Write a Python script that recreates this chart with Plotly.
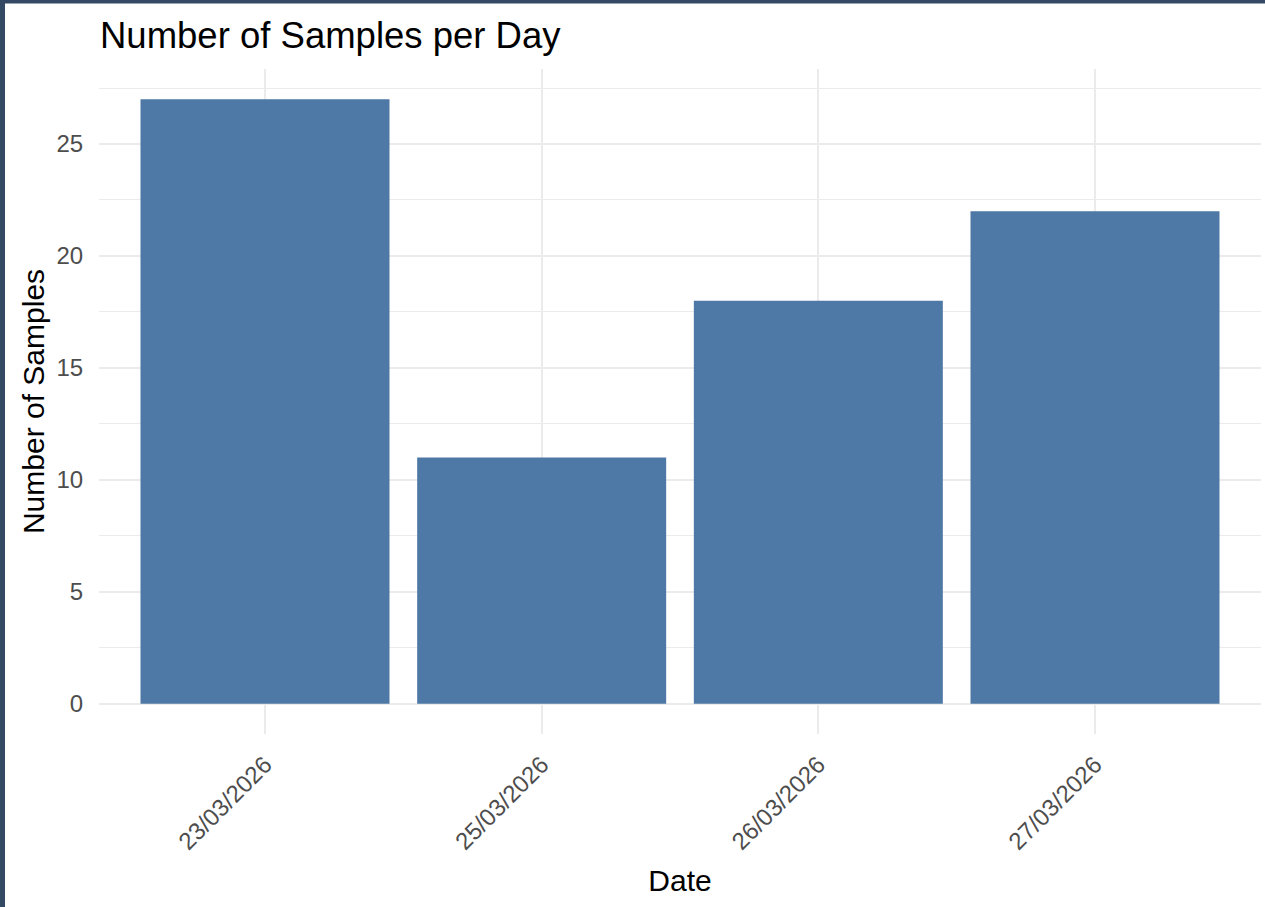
import plotly.graph_objects as go

dates = ["23/03/2026", "25/03/2026", "26/03/2026", "27/03/2026"]
samples = [27, 11, 18, 22]
y_ticks = [0, 5, 10, 15, 20, 25]

W, H = 1265, 907
L, R, T, B = 99, 4, 69, 173
pw, ph = W - L - R, H - T - B

FONT = "Liberation Sans, Arial, sans-serif"
BORDER = "#344964"
GRID = "#EBEBEB"

fig = go.Figure()
fig.add_trace(go.Bar(
    x=dates, y=samples, width=0.9,
    marker=dict(color="#4E79A6", line=dict(width=0)),
    hoverinfo="x+y",
))

def px_x(p):
    return (p - L) / pw

def px_y(p):
    return (H - B - p) / ph

shapes = [
    dict(type="rect", xref="paper", yref="paper",
         x0=px_x(0), x1=px_x(5), y0=px_y(H), y1=px_y(0),
         fillcolor=BORDER, line=dict(width=0), layer="above"),
    dict(type="rect", xref="paper", yref="paper",
         x0=px_x(0), x1=px_x(W), y0=px_y(3.5), y1=px_y(0),
         fillcolor=BORDER, line=dict(width=0), layer="above"),
]

fig.update_layout(
    width=W, height=H,
    margin=dict(l=L, r=R, t=T, b=B, pad=0),
    paper_bgcolor="white", plot_bgcolor="white",
    font=dict(family=FONT, color="#4D4D4D"),
    title=dict(text="Number of Samples per Day", font=dict(size=36.5, color="black", family=FONT),
               x=100 / W, xanchor="left", xref="container",
               y=1 - 35 / H, yanchor="middle", yref="container"),
    showlegend=False,
    bargap=0.1,
    shapes=shapes,
    xaxis=dict(
        type="category", range=[-0.6, 3.6],
        showgrid=True, gridcolor=GRID, gridwidth=2,
        tickangle=-45, tickfont=dict(size=24, color="#4D4D4D"),
        ticks="outside", ticklen=6, tickcolor="rgba(0,0,0,0)",
        showline=False, zeroline=False,
        title=dict(text="Date", font=dict(size=30, color="black"), standoff=16),
        automargin=False,
    ),
    yaxis=dict(
        range=[-1.35, 28.35], tickvals=y_ticks,
        showgrid=True, gridcolor=GRID, gridwidth=2,
        minor=dict(tick0=2.5, dtick=5, showgrid=True, gridcolor=GRID, gridwidth=1),
        tickfont=dict(size=24, color="#4D4D4D"),
        ticks="outside", ticklen=10, tickcolor="rgba(0,0,0,0)",
        showline=False, zeroline=False,
        title=dict(text="Number of Samples", font=dict(size=30, color="black"), standoff=2),
        automargin=False,
    ),
)

fig.write_html(
    "out.html",
    config={"displayModeBar": False},
    post_script="document.body.style.margin='0';document.body.style.overflow='hidden';",
)
